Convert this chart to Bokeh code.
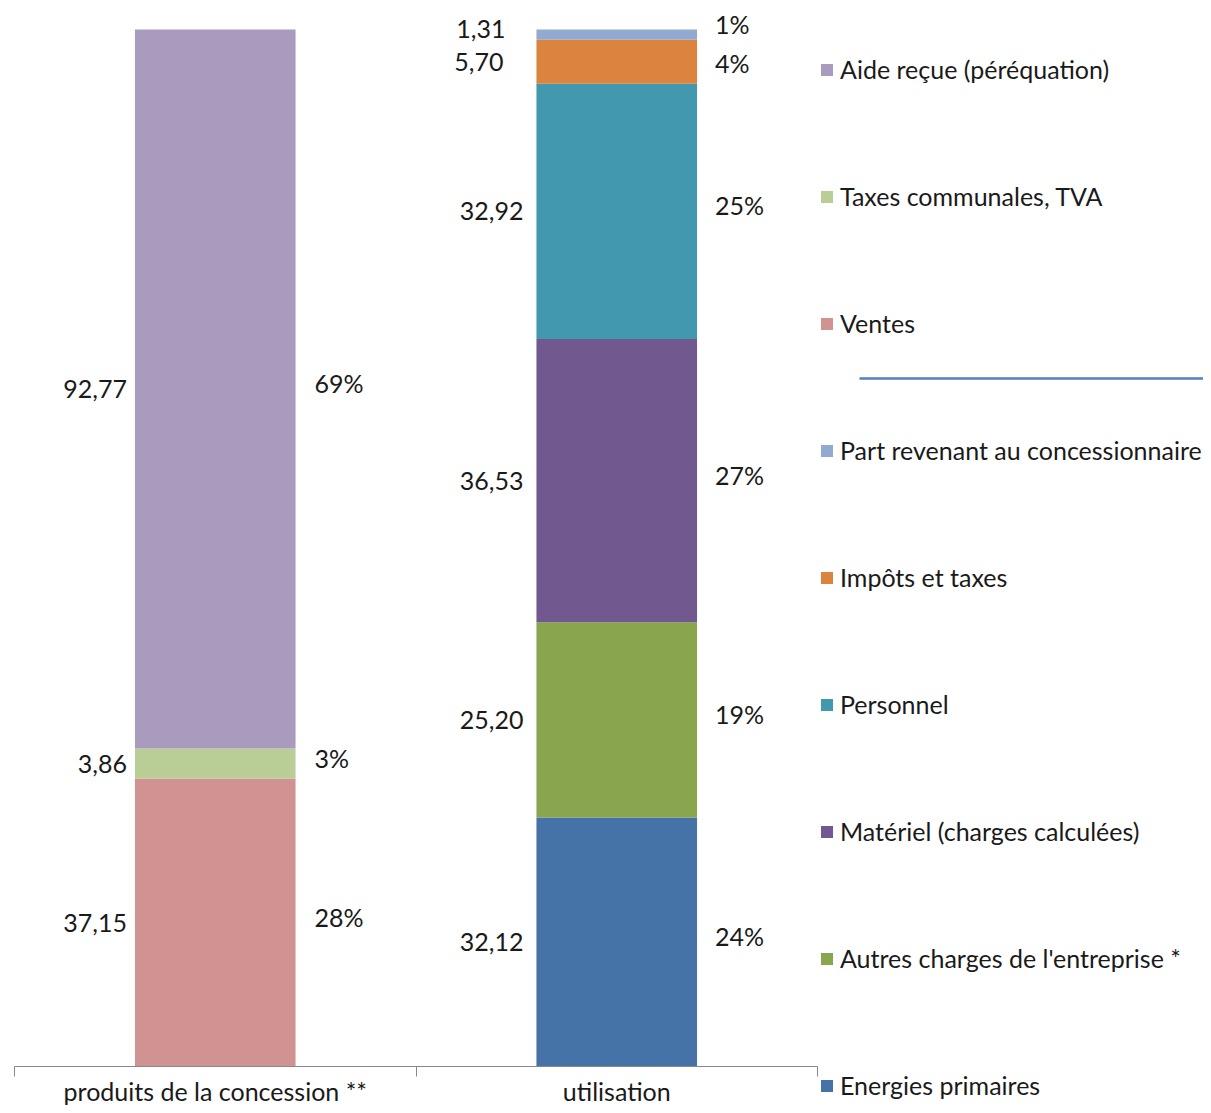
from bokeh.plotting import figure
from bokeh.models import Range1d, FixedTicker, Legend, LegendItem, ColumnDataSource
from bokeh.embed import file_html
from bokeh.resources import INLINE
from bokeh.core.properties import value

# ---------------- data ----------------
categories = ["produits de la concession **", "utilisation"]

produits_labels = ["Ventes", "Taxes communales, TVA", "Aide reçue (péréquation)"]
produits_values = [37.15, 3.86, 92.77]
produits_colors = ["#D19392", "#B9CD96", "#A99BBD"]

utilisation_labels = ["Energies primaires", "Autres charges de l'entreprise *",
                      "Matériel (charges calculées)", "Personnel", "Impôts et taxes",
                      "Part revenant au concessionnaire"]
utilisation_values = [32.12, 25.20, 36.53, 32.92, 5.70, 1.31]
utilisation_colors = ["#4572A7", "#89A54E", "#71588F", "#4198AF", "#DB843D", "#93A9CF"]

legend_order = ["Aide reçue (péréquation)", "Taxes communales, TVA", "Ventes",
                "Part revenant au concessionnaire", "Impôts et taxes", "Personnel",
                "Matériel (charges calculées)", "Autres charges de l'entreprise *",
                "Energies primaires"]

# ---------------- layout / style ----------------
FONT = "Lato"
FS = "25px"
TXT = "#1a1a1a"
W, H = 1203, 1105
AX_LEFT, CAT_PX = 14, 401.5          # axis starts at 14px, 401.5px per category
BASE_PX, TOP_PX = 1066, 29            # bar bottom / top in pixels
BAR_W = 0.4
VAL_XOFF = [-8, -13]                  # value-label offset per bar
PCT_XOFF = [19, 18]
PCT_YOFF = -6
# per-label nudges (x_off for value, y_off for value, y_off for percent)
NUDGE = {"Part revenant au concessionnaire": (-18, -6, -11),
         "Impôts et taxes": (-20, 0, 1)}

total = max(sum(produits_values), sum(utilisation_values))
sy = (BASE_PX - TOP_PX) / total      # px per unit
x_start = -AX_LEFT / CAT_PX
x_end = (W - AX_LEFT) / CAT_PX
y_start = -(H - BASE_PX) / sy
y_end = total + TOP_PX / sy

p = figure(width=W, height=H, x_range=Range1d(x_start, x_end),
           y_range=Range1d(y_start, y_end),
           output_backend="svg", toolbar_location=None, y_axis_location=None,
           min_border_left=0, min_border_right=0, min_border_top=0, min_border_bottom=0)
p.outline_line_color = None
p.xgrid.visible = False
p.ygrid.visible = False
p.background_fill_color = "white"
p.border_fill_color = "white"

series = [(produits_labels, produits_values, produits_colors),
          (utilisation_labels, utilisation_values, utilisation_colors)]

renderers = {}
val_x, val_y, val_t, val_xo, val_yo = [], [], [], [], []
pct_x, pct_y, pct_t, pct_xo, pct_yo = [], [], [], [], []

for i, (labels, vals, cols) in enumerate(series):
    xc = i + 0.5
    tot = sum(vals)
    bottom = 0.0
    for lab, v, c in zip(labels, vals, cols):
        top = bottom + v
        r = p.vbar(x=[xc], width=BAR_W, bottom=[bottom], top=[top],
                   fill_color=c, line_color=None)
        renderers[lab] = r
        mid = (bottom + top) / 2
        nx, ny, npy = NUDGE.get(lab, (0, 0, PCT_YOFF))
        val_x.append(xc - BAR_W / 2); val_y.append(mid)
        val_t.append(f"{v:.2f}".replace(".", ","))
        val_xo.append(VAL_XOFF[i] + nx); val_yo.append(ny)
        pct_x.append(xc + BAR_W / 2); pct_y.append(mid)
        pct_t.append(f"{round(v / tot * 100)}%")
        pct_xo.append(PCT_XOFF[i]); pct_yo.append(npy)
        bottom = top

vsrc = ColumnDataSource(dict(x=val_x, y=val_y, t=val_t, xo=val_xo, yo=val_yo))
psrc = ColumnDataSource(dict(x=pct_x, y=pct_y, t=pct_t, xo=pct_xo, yo=pct_yo))
p.text(x="x", y="y", text="t", x_offset="xo", y_offset="yo", source=vsrc,
       text_align="right", text_baseline="middle", text_font=value(FONT),
       text_font_size=FS, text_color=TXT)
p.text(x="x", y="y", text="t", x_offset="xo", y_offset="yo", source=psrc,
       text_align="left", text_baseline="middle", text_font=value(FONT),
       text_font_size=FS, text_color=TXT)

# ---------------- axis ----------------
ax = p.xaxis[0]
ax.fixed_location = 0
ax.bounds = (0, 2)
ax.ticker = FixedTicker(ticks=[0.5, 1.5], minor_ticks=[0, 1, 2])
ax.major_label_overrides = {0.5: categories[0], 1.5: categories[1]}
ax.major_tick_line_color = None
ax.major_tick_out = 0
ax.major_tick_in = 0
ax.minor_tick_in = 0
ax.minor_tick_out = 10
ax.minor_tick_line_color = "#888888"
ax.axis_line_color = "#888888"
ax.major_label_standoff = -1
ax.major_label_text_font = FONT
ax.major_label_text_font_size = FS
ax.major_label_text_color = TXT

# ---------------- legend ----------------
items = [LegendItem(label=lab, renderers=[renderers[lab]]) for lab in legend_order]
legend = Legend(items=items, location=(819, 5), orientation="vertical",
                glyph_width=15, glyph_height=15, label_height=30, spacing=97,
                padding=0, margin=0, label_standoff=6,
                border_line_alpha=0, background_fill_alpha=0,
                label_text_font=FONT, label_text_font_size=FS, label_text_color=TXT,
                label_text_baseline="alphabetic")
p.add_layout(legend)

# separator line in the legend area (between the two groups)
sep_y = (BASE_PX - 378) / sy
p.segment(x0=[(859 - AX_LEFT) / CAT_PX], y0=[sep_y],
          x1=[(1211 - AX_LEFT) / CAT_PX], y1=[sep_y],
          line_color="#4F81BD", line_width=2.5)

open("out.html", "w").write(file_html(p, INLINE))
